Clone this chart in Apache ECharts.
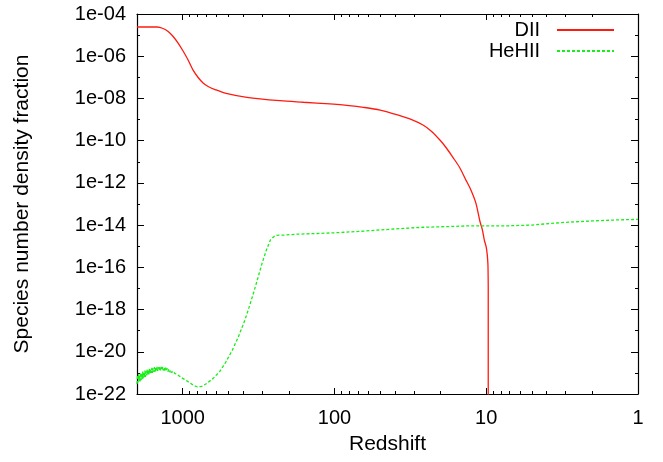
<!DOCTYPE html>
<html>
<head>
<meta charset="utf-8">
<style>
  html, body { margin: 0; padding: 0; background: #fff; }
  #chart { width: 663px; height: 462px; }
</style>
<script src="https://cdn.jsdelivr.net/npm/echarts@6/dist/echarts.min.js"></script>
</head>
<body>
<div id="chart"></div>
<script>
// DII: redshift / fraction
var dIIRedshift = [2000, 1550, 1475, 1346, 1247, 1156, 1072, 994, 921, 854, 791, 734, 680, 612, 526, 377,
    228, 160, 107, 80, 64.5, 50, 38.4, 31, 26.1, 23, 20.2, 18.3, 16.7, 15, 13.7, 12.6,
    11.7, 11, 10.6, 10.3, 10.0, 9.85, 9.75, 9.72, 9.7, 9.7];
var dIIFraction = [2.42e-5, 2.42e-5, 2.42e-5, 2.06e-5, 1.48e-5, 8.6e-6, 4.2e-6, 1.77e-6, 6.6e-7, 2.2e-7, 9.8e-8, 5.4e-8, 3.7e-8, 2.64e-8, 1.8e-8, 1.13e-8,
    7.8e-9, 6.6e-9, 5.5e-9, 4.6e-9, 3.8e-9, 2.8e-9, 1.66e-9, 1.0e-9, 5.5e-10, 2.8e-10, 1.07e-10, 4.5e-11, 1.74e-11, 5.5e-12, 1.5e-12, 4.5e-13,
    1.1e-13, 1.5e-14, 6e-15, 2e-15, 9e-16, 4e-16, 1.5e-16, 5e-17, 1e-17, 1e-30];

// HeHII: redshift / fraction (noisy start above z~1100)
var heHIIRedshift = [2000, 1985, 1970, 1955, 1940, 1925, 1910, 1895, 1880, 1865, 1850, 1835, 1820, 1805, 1790, 1775,
    1760, 1745, 1730, 1715, 1700, 1685, 1670, 1655, 1640, 1625, 1610, 1595, 1580, 1565, 1550, 1535,
    1520, 1505, 1490, 1475, 1460, 1445, 1430, 1415, 1400, 1385, 1370, 1355, 1340, 1325, 1310, 1295,
    1280, 1265, 1250, 1235, 1220, 1205, 1190, 1175, 1160, 1145, 1130, 1115, 1100,
    1087, 1050, 1000, 955, 900, 850, 804, 750, 692, 630, 571, 520, 471, 430, 389, 365,
    342, 320, 300, 280, 264, 250, 240, 210, 180, 130, 94.6, 70, 49.8, 35, 26.1, 18, 13.7, 10, 7.2, 5,
    3.8, 2.8, 2, 1.4, 1];
var heHIIFraction = [3.0e-22, 8.0e-22, 3.5e-22, 9.0e-22, 4.0e-22, 7.5e-22, 3.8e-22, 1.0e-21, 4.5e-22, 9.0e-22, 5.0e-22, 1.15e-21, 5.5e-22, 1.05e-21, 6.0e-22, 1.3e-21,
    6.5e-22, 1.2e-21, 7.5e-22, 1.45e-21, 8.0e-22, 1.35e-21, 8.5e-22, 1.6e-21, 9.0e-22, 1.5e-21, 1.0e-21, 1.75e-21, 1.0e-21, 1.65e-21, 1.1e-21, 1.9e-21,
    1.15e-21, 1.8e-21, 1.2e-21, 2.0e-21, 1.25e-21, 1.85e-21, 1.3e-21, 2.0e-21, 1.3e-21, 1.9e-21, 1.35e-21, 1.95e-21, 1.3e-21, 1.8e-21, 1.3e-21, 1.75e-21,
    1.2e-21, 1.65e-21, 1.15e-21, 1.5e-21, 1.1e-21, 1.4e-21, 1.05e-21, 1.3e-21, 1.0e-21, 1.2e-21, 9.5e-22, 1.1e-21, 9.0e-22,
    8.5e-22, 7.0e-22, 5.5e-22, 4.6e-22, 3.4e-22, 2.6e-22, 2.2e-22, 2.3e-22, 3.2e-22, 5.5e-22, 1.15e-21, 3.2e-21, 1.2e-20, 5.0e-20, 3.2e-19, 1.3e-18,
    5.9e-18, 3.0e-17, 1.55e-16, 7.0e-16, 2.0e-15, 2.9e-15, 3.3e-15, 3.4e-15, 3.7e-15, 4.0e-15, 4.4e-15, 5.0e-15, 5.9e-15, 7.0e-15, 7.9e-15, 8.5e-15, 9.1e-15, 9.3e-15, 9.3e-15, 1.0e-14,
    1.2e-14, 1.4e-14, 1.58e-14, 1.75e-14, 1.86e-14];

// tick values
var xMajorTicks = [1, 10, 100, 1000];
var xMinorTicks = [2, 3, 4, 5, 6, 7, 8, 9, 20, 30, 40, 50, 60, 70, 80, 90, 200, 300, 400, 500, 600, 700, 800, 900, 2000];
var yMajorTicks = [1e-22, 1e-20, 1e-18, 1e-16, 1e-14, 1e-12, 1e-10, 1e-8, 1e-6, 1e-4];
var yMinorTicks = [1e-21, 1e-19, 1e-17, 1e-15, 1e-13, 1e-11, 1e-9, 1e-7, 1e-5];

var font = 'Liberation Sans';
var labelSize = 20;
var titleSize = 21;

function pairUp(xs, ys) {
    var out = [];
    for (var i = 0; i < xs.length; i++) {
        out.push([xs[i], ys[i]]);
    }
    return out;
}

function expLabel(v) {
    var e = Math.round(Math.log10(v));
    var s = Math.abs(e) < 10 ? '0' + Math.abs(e) : '' + Math.abs(e);
    return '1e' + (e < 0 ? '-' : '+') + s;
}

// one log x axis, used for ticks on bottom/top
function makeX(pos, ticks, len, showLine, showLabel) {
    return {
        type: 'log', logBase: 10, inverse: true, min: 1, max: 2000,
        position: pos,
        gridIndex: 0,
        axisLine: { show: showLine, onZero: false, lineStyle: { color: '#000', width: 1.2 } },
        axisTick: { show: true, inside: true, length: len, customValues: ticks, lineStyle: { color: '#000', width: 1 } },
        axisLabel: {
            show: showLabel, customValues: ticks, margin: 14,
            fontFamily: font, fontSize: labelSize, color: '#000',
            formatter: function (v) { return '' + Math.round(v); }
        },
        splitLine: { show: false }
    };
}

function makeY(pos, ticks, len, showLine, showLabel) {
    return {
        type: 'log', logBase: 10, min: 1e-22, max: 1e-4,
        position: pos,
        gridIndex: 0,
        axisLine: { show: showLine, onZero: false, lineStyle: { color: '#000', width: 1.2 } },
        axisTick: { show: true, inside: true, length: len, customValues: ticks, lineStyle: { color: '#000', width: 1 } },
        axisLabel: {
            show: showLabel, customValues: ticks, margin: 11,
            fontFamily: font, fontSize: labelSize, color: '#000',
            formatter: expLabel
        },
        splitLine: { show: false }
    };
}

var chart = echarts.init(document.getElementById('chart'));

var xBottom = makeX('bottom', xMajorTicks, 6, true, true);
xBottom.name = 'Redshift';
xBottom.nameLocation = 'middle';
xBottom.nameGap = 40;
xBottom.nameTextStyle = { fontFamily: font, fontSize: titleSize, color: '#000' };

var yLeft = makeY('left', yMajorTicks, 7, true, true);
yLeft.name = 'Species number density fraction';
yLeft.nameLocation = 'middle';
yLeft.nameGap = 104;
yLeft.nameTextStyle = { fontFamily: font, fontSize: titleSize, color: '#000' };

var option = {
    backgroundColor: '#fff',
    animation: false,
    grid: { left: 137, right: 25, top: 14, bottom: 68, containLabel: false },
    legend: {
        orient: 'vertical',
        right: 43,
        top: 15,
        align: 'right',
        itemWidth: 57,
        itemHeight: 14,
        itemGap: 1,
        itemStyle: { opacity: 0 },
        textStyle: { fontFamily: font, fontSize: labelSize, color: '#000', padding: [0, 12, 0, 0] },
        data: ['DII', 'HeHII']
    },
    xAxis: [
        xBottom,
        makeX('bottom', xMinorTicks, 3, false, false),
        makeX('top', xMajorTicks, 6, true, false),
        makeX('top', xMinorTicks, 3, false, false)
    ],
    yAxis: [
        yLeft,
        makeY('left', yMinorTicks, 3, false, false),
        makeY('right', yMajorTicks, 7, true, false),
        makeY('right', yMinorTicks, 3, false, false)
    ],
    series: [
        {
            name: 'DII',
            type: 'line',
            xAxisIndex: 0,
            yAxisIndex: 0,
            symbol: 'none',
            smooth: 0.3,
            clip: true,
            lineStyle: { color: '#ff1a10', width: 1.3 },
            itemStyle: { color: '#ff1a10' },
            data: pairUp(dIIRedshift, dIIFraction)
        },
        {
            name: 'HeHII',
            type: 'line',
            xAxisIndex: 0,
            yAxisIndex: 0,
            symbol: 'none',
            clip: true,
            lineStyle: { color: '#1aee1a', width: 1.3, type: [3, 2] },
            itemStyle: { color: '#1aee1a' },
            data: pairUp(heHIIRedshift, heHIIFraction)
        }
    ]
};

chart.setOption(option);

window.addEventListener('resize', function () {
    chart && chart.resize();
});
</script>
</body>
</html>
